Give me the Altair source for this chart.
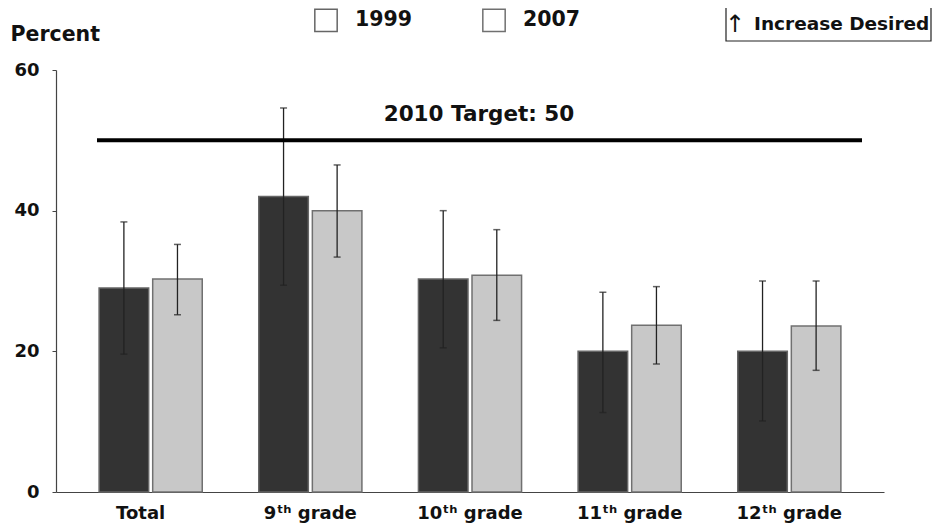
import altair as alt
import pandas as pd

categories = ["Total", "9ᵗʰ grade", "10ᵗʰ grade", "11ᵗʰ grade", "12ᵗʰ grade"]
years = ["1999", "2007"]
v1999 = [29.0, 42.0, 30.3, 20.0, 20.0]
lo1999 = [19.6, 29.4, 20.5, 11.3, 10.1]
hi1999 = [38.4, 54.6, 40.0, 28.4, 30.0]
v2007 = [30.3, 40.0, 30.8, 23.7, 23.6]
lo2007 = [25.2, 33.4, 24.4, 18.2, 17.3]
hi2007 = [35.2, 46.5, 37.3, 29.2, 30.0]
target = [50]
target_label = ["2010 Target: 50"]
note_arrow = ["↑"]
note_text = ["Increase Desired"]

rows = []
for i, c in enumerate(categories):
    rows.append({"cat": c, "year": "1999", "Year": "1999", "v": v1999[i], "lo": lo1999[i], "hi": hi1999[i]})
    rows.append({"cat": c, "year": "2007", "Year": "2007", "v": v2007[i], "lo": lo2007[i], "hi": hi2007[i]})
df = pd.DataFrame(rows)

FONT = "DejaVu Sans"

x = alt.X("cat:N", sort=categories, title=None,
          scale=alt.Scale(paddingInner=0.354, paddingOuter=0.27),
          axis=alt.Axis(labelAngle=0, ticks=False, labelPadding=12, labelFontSize=18,
                        labelFont=FONT, labelFontWeight="bold", labelColor="#111",
                        labelOffset={"condition": {"test": "datum.value == 'Total'", "value": -10},
                                     "value": 0},
                        domainColor="#444", domainWidth=1.2))
xo = alt.XOffset("year:N", sort=years, scale=alt.Scale(paddingInner=0.075, paddingOuter=0))
y = alt.Y("v:Q", scale=alt.Scale(domain=[0, 60], nice=False),
          axis=alt.Axis(values=[0, 20, 40, 60], grid=False, title="Percent", titleAngle=0,
                        titleAlign="left", titleBaseline="alphabetic", titleX=-46, titleY=-30,
                        titleFontSize=20.5, titleFont=FONT, titleFontWeight="bold", titleColor="#111",
                        labelFontSize=18, labelFont=FONT, labelFontWeight="bold", labelColor="#111",
                        labelPadding=13, tickSize=4, tickColor="#444", domainColor="#444",
                        domainWidth=1.2))

bars = alt.Chart(df).mark_bar(strokeWidth=1.5).encode(
    x=x, xOffset=xo, y=y,
    color=alt.Color("year:N", sort=years, scale=alt.Scale(range=["#333333", "#c8c8c8"]),
                    legend=None),
    stroke=alt.Stroke("Year:N", sort=years, scale=alt.Scale(range=["#666666", "#707070"]),
                      legend=alt.Legend(title=None, orient="none", legendX=258, legendY=-62,
                                        direction="horizontal", columns=2, columnPadding=66,
                                        symbolType="square", symbolSize=500, symbolStrokeWidth=1.5,
                                        symbolFillColor="white", labelFontSize=20.5, labelFont=FONT,
                                        labelFontWeight="bold", labelColor="#111", labelOffset=17,
                                        padding=0)),
)

err = alt.Chart(df).mark_rule(color="#222", strokeWidth=1.3).encode(
    x=alt.X("cat:N", sort=categories), xOffset=alt.XOffset("year:N", sort=years),
    y="lo:Q", y2="hi:Q")
caps_hi = alt.Chart(df).mark_tick(color="#222", thickness=1.5, size=7).encode(
    x=alt.X("cat:N", sort=categories), xOffset=alt.XOffset("year:N", sort=years), y="hi:Q")
caps_lo = alt.Chart(df).mark_tick(color="#222", thickness=1.5, size=7).encode(
    x=alt.X("cat:N", sort=categories), xOffset=alt.XOffset("year:N", sort=years), y="lo:Q")

tdf = pd.DataFrame({"t": target, "label": target_label})
trule = alt.Chart(tdf).mark_rule(color="black", strokeWidth=4).encode(
    y="t:Q", x=alt.value(41), x2=alt.value(806))
ttext = alt.Chart(tdf).mark_text(font=FONT, fontWeight="bold", fontSize=21.5, color="#111",
                                 align="center", baseline="alphabetic", dy=-19).encode(
    y="t:Q", x=alt.value(423), text="label:N")

ndf = pd.DataFrame({"arrow": note_arrow, "text": note_text})
nbox = alt.Chart(ndf).mark_rect(fill="white", stroke="#222", strokeWidth=1.2).encode(
    x=alt.value(670), x2=alt.value(875), y=alt.value(-65), y2=alt.value(-29))
narrow = alt.Chart(ndf).mark_text(font=FONT, fontSize=24, color="#111", align="center",
                                  baseline="middle").encode(
    x=alt.value(679), y=alt.value(-45), text="arrow:N")
ntext = alt.Chart(ndf).mark_text(font=FONT, fontWeight="bold", fontSize=18.5, color="#111",
                                 align="left", baseline="middle").encode(
    x=alt.value(698), y=alt.value(-46), text="text:N")

chart = alt.layer(bars, err, caps_hi, caps_lo, trule, ttext, nbox, narrow, ntext).properties(
    width=828, height=422,
    autosize=alt.AutoSizeParams(type="none"),
    padding={"left": 48, "top": 62, "right": 48, "bottom": 31},
    background="white",
).configure_view(stroke=None)

chart.save("out.html", embed_options={"renderer": "svg", "actions": False})
